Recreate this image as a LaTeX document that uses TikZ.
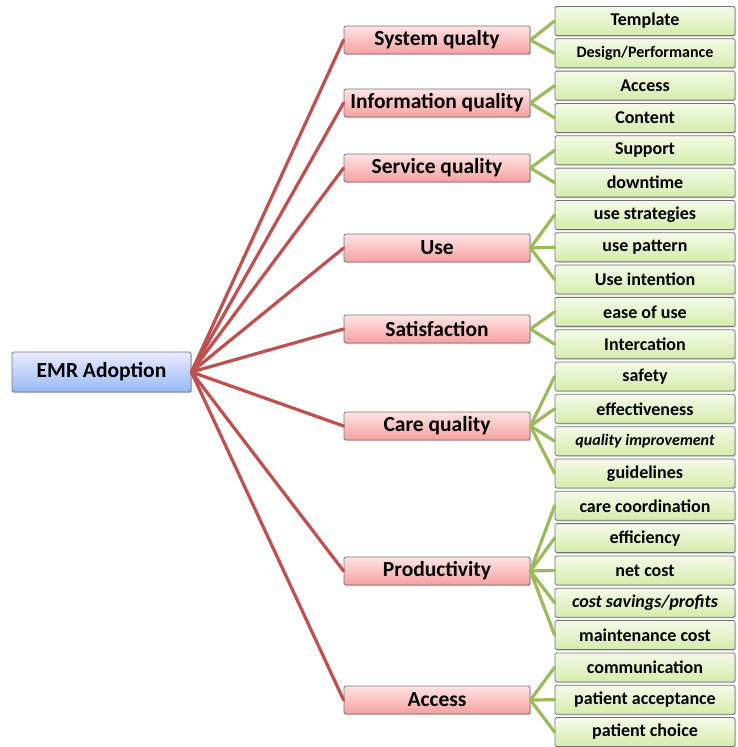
\documentclass[tikz,border=0pt]{standalone}
\usepackage{fontspec}
\setmainfont{Carlito}
\usetikzlibrary{shadows}
\definecolor{redline}{HTML}{C0504D}
\definecolor{greenline}{HTML}{9BBB59}
\begin{document}
\begin{tikzpicture}[x=1pt,y=-1pt,
  box/.style={draw=black!55, line width=0.8pt, rounded corners=1.5pt, inner sep=0pt,
    drop shadow={shadow xshift=1pt, shadow yshift=-1.2pt, opacity=0.35}},
  rootbox/.style={box, top color=blue!8, bottom color={rgb,255:red,150;green,186;blue,245},
    minimum width=179pt, minimum height=40pt, font=\fontsize{21.5}{23}\selectfont\bfseries},
  catbox/.style={box, top color={rgb,255:red,255;green,228;blue,228}, bottom color={rgb,255:red,245;green,160;blue,160},
    minimum width=186pt, minimum height=28pt, font=\fontsize{21.5}{23}\selectfont\bfseries},
  leafbox/.style={box, top color={rgb,255:red,244;green,251;blue,232}, bottom color={rgb,255:red,212;green,236;blue,172},
    minimum width=180pt, minimum height=29pt, font=\fontsize{18}{20}\selectfont\bfseries},
  redc/.style={draw=redline, line width=3.2pt, line cap=round},
  greenc/.style={draw=greenline, line width=3.2pt, line cap=round}]
\useasboundingbox (0,0) rectangle (737,747);
\node[rootbox] (root) at (101.5,372) {EMR Adoption};
\foreach \n/\y/\t in {c1/40/System qualty, c2/103/Information quality, c3/168/Service quality,
  c4/248/Use, c5/329/Satisfaction, c6/426/Care quality, c7/571/Productivity, c8/700/Access}
  {\node[catbox] (\n) at (437,\y) {\t};}
\foreach \i/\t in {0/Template, 1/{\fontsize{16}{18}\selectfont Design/Performance}, 2/Access, 3/Content, 4/Support, 5/downtime,
  6/use strategies, 7/use pattern, 8/Use intention, 9/ease of use, 10/Intercation,
  11/safety, 12/effectiveness, 13/{\fontsize{16}{18}\selectfont\itshape quality improvement}, 14/guidelines,
  15/care coordination, 16/efficiency, 17/net cost, 18/{\itshape cost savings/profits}, 19/maintenance cost,
  20/communication, 21/patient acceptance, 22/patient choice}
  {\node[leafbox] (l\i) at (645,{21+32.32*\i}) {\t};}
\foreach \c in {1,...,8} {\draw[redc] (root.east) -- (c\c.west);}
\foreach \c/\l in {1/0,1/1,2/2,2/3,3/4,3/5,4/6,4/7,4/8,5/9,5/10,6/11,6/12,6/13,6/14,
  7/15,7/16,7/17,7/18,7/19,8/20,8/21,8/22}
  {\draw[greenc] (c\c.east) -- (l\l.west);}
\end{tikzpicture}
\end{document}
